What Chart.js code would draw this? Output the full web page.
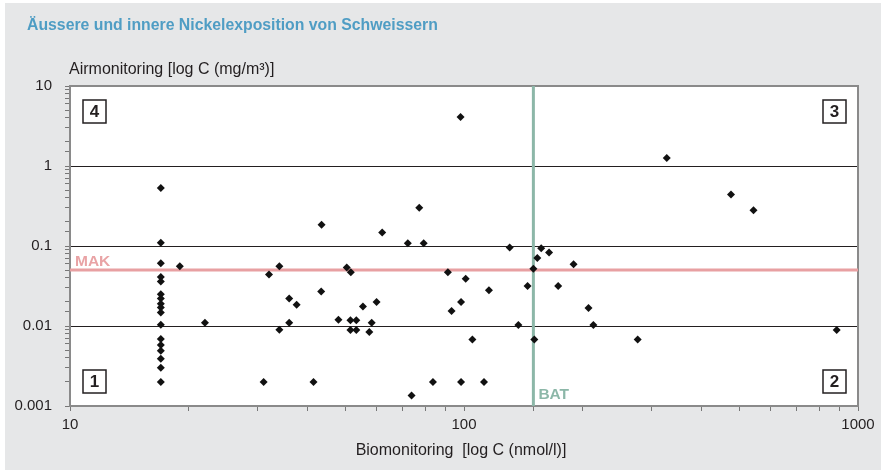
<!DOCTYPE html>
<html>
<head>
<meta charset="utf-8">
<script src="https://cdn.jsdelivr.net/npm/chart.js@4.4.0/dist/chart.umd.min.js"></script>
<style>
html, body { margin: 0; padding: 0; background: #fff; }
#wrap { position: relative; width: 881px; height: 470px; }
#panel { position: absolute; left: 5px; top: 3px; right: 0; bottom: 0; background: #e6e7e8; }
canvas { position: absolute; left: 0; top: 0; }
</style>
</head>
<body>
<div id="wrap">
  <div id="panel"></div>
  <canvas id="chart" width="881" height="470"></canvas>
</div>
<script>
// Biomonitoring (nmol/l) vs Airmonitoring (mg/m3), one point per welder
const bioNmol = [
  17, 17, 17, 17, 17, 17, 17, 17, 17, 17, 17, 17, 17, 17, 17, 17, 17,
  19, 22, 31, 32, 34, 34, 36, 36, 37.6, 41.5, 43.5, 43.4, 48, 50.4, 51.6,
  51.5, 51.5, 53.3, 53.3, 55.4, 57.5, 58.3, 60, 62, 72, 77, 79, 73.6, 83.4,
  91, 93, 98, 98.3, 98.3, 101, 105, 112.4, 115.7, 130.6, 137.4, 145, 150.8,
  150, 153.5, 157, 164.4, 173.4, 189.7, 207, 213, 276, 327, 476, 543, 883
];
const airMg = [
  0.53, 0.11, 0.061, 0.041, 0.036, 0.025, 0.022, 0.019, 0.017, 0.0147, 0.0104, 0.0069, 0.0058, 0.0049, 0.0039, 0.003, 0.002,
  0.056, 0.011, 0.002, 0.044, 0.056, 0.009, 0.022, 0.011, 0.0185, 0.002, 0.185, 0.027, 0.012, 0.054, 0.047,
  0.0118, 0.0089, 0.0118, 0.0089, 0.0175, 0.0084, 0.011, 0.02, 0.147, 0.108, 0.3, 0.108, 0.00135, 0.002,
  0.047, 0.0154, 4.1, 0.02, 0.002, 0.039, 0.0068, 0.002, 0.028, 0.096, 0.0103, 0.0316, 0.0068,
  0.052, 0.071, 0.094, 0.083, 0.0316, 0.059, 0.0168, 0.0103, 0.0068, 1.26, 0.44, 0.28, 0.0089
];

const makLimit = 0.05;   // mg/m3
const batLimit = 150;    // nmol/l
const xRange = [10, 1000];
const yRange = [0.001, 10];
const xTickLabels = ['10', '100', '1000'];
const yTickLabels = ['0.001', '0.01', '0.1', '1', '10'];

const points = bioNmol.map((x, i) => ({ x: x, y: airMg[i] }));

function decade(v) {
    const e = Math.log10(v);
    return Math.abs(e - Math.round(e)) < 1e-6 ? Math.round(e) : null;
}

const fam = "'Liberation Sans', Arial, sans-serif";
Chart.defaults.font.family = fam;
Chart.defaults.color = '#231f20';

const decorations = {
    id: 'decorations',
    beforeDraw(chart) {
        const { ctx, chartArea: a } = chart;
        ctx.save();
        ctx.fillStyle = '#fff';
        ctx.fillRect(a.left, a.top, a.right - a.left, a.bottom - a.top);
        ctx.restore();
    },
    beforeDatasetsDraw(chart) {
        const { ctx, chartArea: a } = chart;
        ctx.save();
        ctx.strokeStyle = '#8a8a8a';
        ctx.lineWidth = 2;
        ctx.strokeRect(a.left, a.top, a.right - a.left, a.bottom - a.top);
        ctx.restore();
    },
    afterDraw(chart) {
        const { ctx, chartArea: a, scales } = chart;
        ctx.save();

        // titles
        ctx.textBaseline = 'alphabetic';
        ctx.textAlign = 'left';
        ctx.fillStyle = '#4f9dc4';
        ctx.font = 'bold 15.8px ' + fam;
        ctx.fillText('Äussere und innere Nickelexposition von Schweissern', 27, 30);

        ctx.fillStyle = '#231f20';
        ctx.font = '16px ' + fam;
        ctx.fillText('Airmonitoring [log C (mg/m³)]', 69, 74);
        ctx.textAlign = 'center';
        ctx.fillText('Biomonitoring  [log C (nmol/l)]', 461, 455);

        // limit labels
        ctx.textAlign = 'left';
        ctx.font = 'bold 15.5px ' + fam;
        ctx.fillStyle = '#e9a3a5';
        ctx.fillText('MAK', a.left + 5, scales.y.getPixelForValue(makLimit) - 4);
        ctx.fillStyle = '#8cb7a8';
        ctx.fillText('BAT', scales.x.getPixelForValue(batLimit) + 5, a.bottom - 7);

        // quadrant boxes
        const s = 23;
        const boxes = [
            ['4', a.left + 13, a.top + 14],
            ['3', a.right - 12 - s, a.top + 14],
            ['1', a.left + 13, a.bottom - 13 - s],
            ['2', a.right - 12 - s, a.bottom - 13 - s]
        ];
        ctx.font = 'bold 17px ' + fam;
        ctx.textAlign = 'center';
        ctx.textBaseline = 'middle';
        boxes.forEach(([t, bx, by]) => {
            ctx.fillStyle = '#fff';
            ctx.fillRect(bx, by, s, s);
            ctx.strokeStyle = '#231f20';
            ctx.lineWidth = 1.5;
            ctx.strokeRect(bx, by, s, s);
            ctx.fillStyle = '#231f20';
            ctx.fillText(t, bx + s / 2, by + s / 2 + 1);
        });
        ctx.restore();
    }
};

new Chart(document.getElementById('chart'), {
    type: 'scatter',
    data: {
        datasets: [
            {
                label: 'Schweisser',
                data: points,
                pointStyle: 'rectRot',
                pointRadius: 4,
                borderWidth: 0,
                backgroundColor: '#111',
                borderColor: '#111'
            },
            {
                label: 'MAK',
                data: [{ x: xRange[0], y: makLimit }, { x: xRange[1], y: makLimit }],
                showLine: true,
                borderColor: '#e8a0a2',
                borderWidth: 3,
                pointRadius: 0
            },
            {
                label: 'BAT',
                data: [{ x: batLimit, y: yRange[0] }, { x: batLimit, y: yRange[1] }],
                showLine: true,
                borderColor: '#8cb7a8',
                borderWidth: 3,
                pointRadius: 0
            }
        ]
    },
    options: {
        responsive: false,
        animation: false,
        events: [],
        layout: {
            padding: { top: 86, right: 23, left: 0, bottom: 0 }
        },
        plugins: {
            legend: { display: false },
            tooltip: { enabled: false }
        },
        scales: {
            x: {
                type: 'logarithmic',
                min: xRange[0],
                max: xRange[1],
                afterFit: (scale) => { scale.height = 64; },
                border: { display: false },
                grid: {
                    drawOnChartArea: false,
                    tickLength: 5,
                    tickColor: '#777',
                    tickWidth: 1
                },
                ticks: {
                    autoSkip: false,
                    maxRotation: 0,
                    padding: 5,
                    font: { size: 15 },
                    color: '#231f20',
                    callback: (v) => {
                        const e = decade(v);
                        return e === null ? '' : xTickLabels[e - 1];
                    }
                }
            },
            y: {
                type: 'logarithmic',
                min: yRange[0],
                max: yRange[1],
                afterFit: (scale) => { scale.width = 70; },
                border: { display: false },
                grid: {
                    color: (c) => decade(c.tick.value) === null ? 'rgba(0,0,0,0)' : '#231f20',
                    lineWidth: 1,
                    tickLength: 5,
                    tickColor: '#777',
                    tickWidth: 1
                },
                ticks: {
                    autoSkip: false,
                    padding: 13,
                    font: { size: 15 },
                    color: '#231f20',
                    callback: (v) => {
                        const e = decade(v);
                        return e === null ? '' : yTickLabels[e + 3];
                    }
                }
            }
        }
    },
    plugins: [decorations]
});
</script>
</body>
</html>
